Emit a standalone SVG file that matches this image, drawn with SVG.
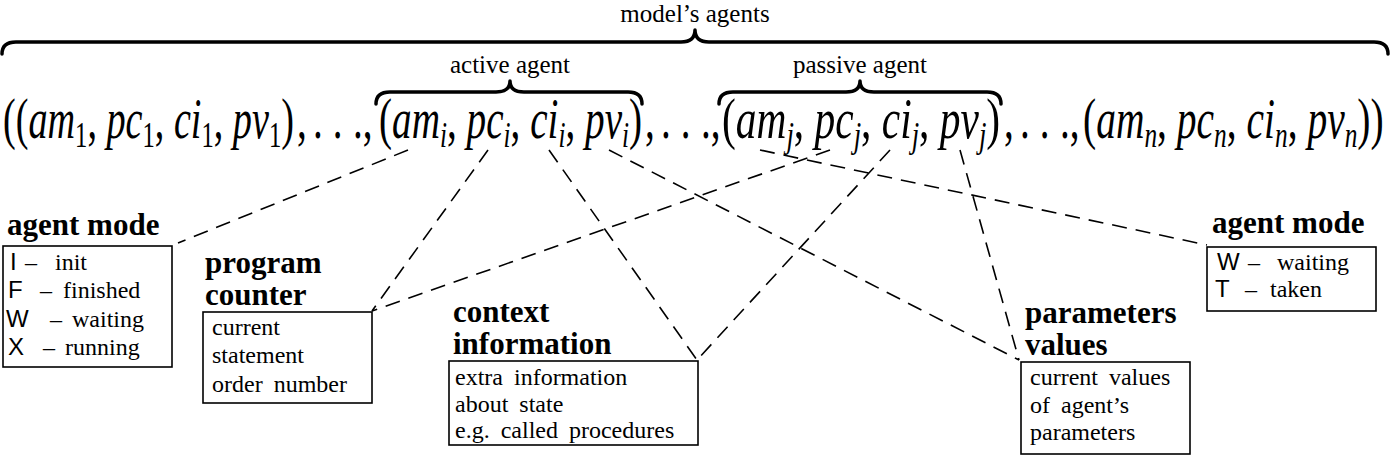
<svg xmlns="http://www.w3.org/2000/svg" width="1390" height="456" viewBox="0 0 1390 456">
<style>
.m { font-family: "Liberation Serif", serif; font-size: 56px; fill: #000; }
.it { font-style: italic; }
.sb { font-size: 36px; }
.lbl { font-family: "Liberation Serif", serif; font-size: 25px; fill: #000; }
.ttl { font-family: "Liberation Serif", serif; font-size: 31px; font-weight: bold; fill: #000; }
.bx { font-family: "Liberation Serif", serif; font-size: 24px; word-spacing: 5px; fill: #000; }
.sans { font-family: "Liberation Sans", sans-serif; }
.box { fill: #fff; stroke: #000; stroke-width: 1.6; }
.dash { stroke: #000; stroke-width: 1.6; stroke-dasharray: 15 9; fill: none; }
.brace { fill: none; stroke: #000; stroke-width: 3.5; stroke-linejoin: round; stroke-linecap: round; }
</style>
<rect width="1390" height="456" fill="#fff"/>

<g id="connectors">
  <line class="dash" x1="408" y1="150" x2="178" y2="243"/>
  <line class="dash" x1="488" y1="150" x2="372" y2="311"/>
  <line class="dash" x1="549" y1="150" x2="697" y2="360"/>
  <line class="dash" x1="609" y1="150" x2="1019" y2="360"/>
  <line class="dash" x1="760" y1="150" x2="1207" y2="245"/>
  <line class="dash" x1="830" y1="150" x2="372" y2="311"/>
  <line class="dash" x1="890" y1="150" x2="697" y2="360"/>
  <line class="dash" x1="960" y1="150" x2="1019" y2="360"/>
</g>

<g id="model-agents">
  <path class="brace" d="M2,54 Q2,42 16,42 L681,42 Q695,42 695,30 Q695,42 709,42 L1374,42 Q1388,42 1388,54"/>
  <text class="lbl" x="695" y="22" text-anchor="middle">model’s agents</text>
</g>
<g id="active-agent">
  <path class="brace" d="M376,104 Q376,92 390,92 L496,92 Q510,92 510,81 Q510,92 524,92 L628,92 Q642,92 642,104"/>
  <text class="lbl" x="510" y="73" text-anchor="middle">active agent</text>
</g>
<g id="passive-agent">
  <path class="brace" d="M719,104 Q719,92 733,92 L846,92 Q860,92 860,81 Q860,92 874,92 L987,92 Q1001,92 1001,104"/>
  <text class="lbl" x="860" y="73" text-anchor="middle">passive agent</text>
</g>

<g id="formula">
  <text class="m" transform="translate(3,138) scale(0.682,1)">((<tspan class="it">am</tspan><tspan class="sb" dy="9">1</tspan><tspan dy="-9">, </tspan><tspan class="it">pc</tspan><tspan class="sb" dy="9">1</tspan><tspan dy="-9">, </tspan><tspan class="it">ci</tspan><tspan class="sb" dy="9">1</tspan><tspan dy="-9">, </tspan><tspan class="it">pv</tspan><tspan class="sb" dy="9">1</tspan><tspan dy="-9">)</tspan></text>
  <text class="m" transform="translate(297,138) scale(0.7,1)" x="0 23 51 80 94" y="0">,...,</text>
  <text class="m" transform="translate(379,138) scale(0.70,1)">(<tspan class="it">am</tspan><tspan class="sb it" dy="9">i</tspan><tspan dy="-9">, </tspan><tspan class="it">pc</tspan><tspan class="sb it" dy="9">i</tspan><tspan dy="-9">, </tspan><tspan class="it">ci</tspan><tspan class="sb it" dy="9">i</tspan><tspan dy="-9">, </tspan><tspan class="it">pv</tspan><tspan class="sb it" dy="9">i</tspan><tspan dy="-9">)</tspan></text>
  <text class="m" transform="translate(645,138) scale(0.7,1)" x="0 23 51 80 94" y="0">,...,</text>
  <text class="m" transform="translate(722,138) scale(0.74,1)">(<tspan class="it">am</tspan><tspan class="sb it" dy="9">j</tspan><tspan dy="-9">, </tspan><tspan class="it">pc</tspan><tspan class="sb it" dy="9">j</tspan><tspan dy="-9">, </tspan><tspan class="it">ci</tspan><tspan class="sb it" dy="9">j</tspan><tspan dy="-9">, </tspan><tspan class="it">pv</tspan><tspan class="sb it" dy="9">j</tspan><tspan dy="-9">)</tspan></text>
  <text class="m" transform="translate(1004,138) scale(0.7,1)" x="0 23 51 80 94" y="0">,...,</text>
  <text class="m" transform="translate(1083,138) scale(0.705,1)">(<tspan class="it">am</tspan><tspan class="sb it" dy="9">n</tspan><tspan dy="-9">, </tspan><tspan class="it">pc</tspan><tspan class="sb it" dy="9">n</tspan><tspan dy="-9">, </tspan><tspan class="it">ci</tspan><tspan class="sb it" dy="9">n</tspan><tspan dy="-9">, </tspan><tspan class="it">pv</tspan><tspan class="sb it" dy="9">n</tspan><tspan dy="-9">))</tspan></text>
</g>

<g id="agent-mode-active">
  <text class="ttl" x="7" y="235">agent mode</text>
  <rect class="box" x="3" y="246" width="169" height="121"/>
  <text class="bx" y="270"><tspan class="sans" x="10">I</tspan><tspan x="25">–</tspan><tspan x="55">init</tspan></text>
  <text class="bx" y="298"><tspan class="sans" x="8">F</tspan><tspan x="40">–</tspan><tspan x="63">finished</tspan></text>
  <text class="bx" y="327"><tspan class="sans" x="6">W</tspan><tspan x="50">–</tspan><tspan x="72">waiting</tspan></text>
  <text class="bx" y="355"><tspan class="sans" x="8">X</tspan><tspan x="43">–</tspan><tspan x="65">running</tspan></text>
</g>

<g id="program-counter">
  <text class="ttl" x="205" y="273">program</text>
  <text class="ttl" x="205" y="305">counter</text>
  <rect class="box" x="203" y="312" width="169" height="91"/>
  <text class="bx" x="212" y="335">current</text>
  <text class="bx" x="212" y="363">statement</text>
  <text class="bx" x="212" y="392">order number</text>
</g>

<g id="context-information">
  <text class="ttl" x="453" y="322">context</text>
  <text class="ttl" x="453" y="354">information</text>
  <rect class="box" x="449" y="361" width="249" height="84"/>
  <text class="bx" x="455" y="385">extra information</text>
  <text class="bx" x="455" y="412">about state</text>
  <text class="bx" x="455" y="438">e.g. called procedures</text>
</g>

<g id="parameters-values">
  <text class="ttl" x="1025" y="323">parameters</text>
  <text class="ttl" x="1025" y="355">values</text>
  <rect class="box" x="1021" y="362" width="169" height="92"/>
  <text class="bx" x="1030" y="385">current values</text>
  <text class="bx" x="1030" y="413">of agent’s</text>
  <text class="bx" x="1030" y="440">parameters</text>
</g>

<g id="agent-mode-passive">
  <text class="ttl" x="1212" y="233">agent mode</text>
  <rect class="box" x="1207" y="247" width="169" height="64"/>
  <text class="bx" y="270"><tspan class="sans" x="1217">W</tspan><tspan x="1248">–</tspan><tspan x="1277">waiting</tspan></text>
  <text class="bx" y="297"><tspan class="sans" x="1215">T</tspan><tspan x="1245">–</tspan><tspan x="1270">taken</tspan></text>
</g>
</svg>
